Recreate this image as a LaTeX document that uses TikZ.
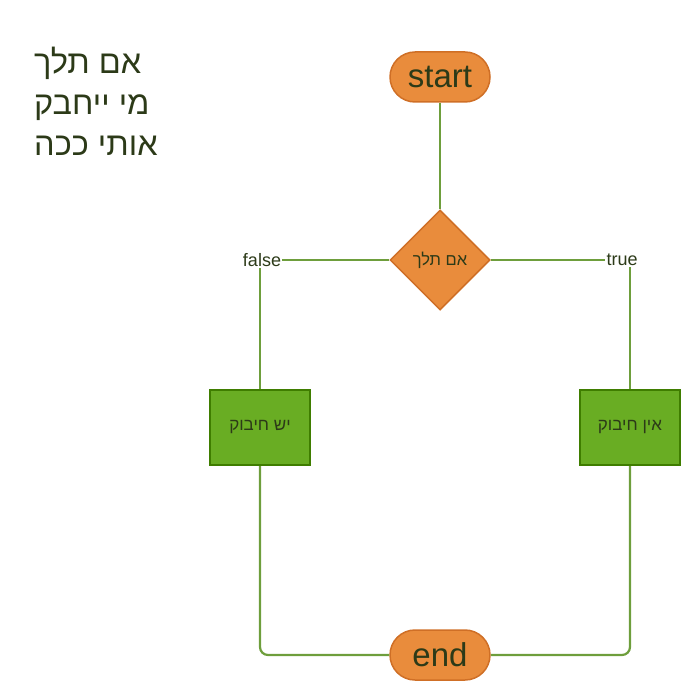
\documentclass[tikz,border=0pt]{standalone}
\usepackage{fontspec}
\setmainfont{Liberation Sans}
\newfontfamily\hebfont[Script=Hebrew]{Liberation Sans}
\TeXXeTstate=1
\usetikzlibrary{shapes.geometric}
\definecolor{ofill}{HTML}{E98C3C}
\definecolor{oline}{HTML}{CF6F26}
\definecolor{gfill}{HTML}{69AD23}
\definecolor{gline}{HTML}{3F7D00}
\definecolor{wire}{HTML}{6E9E3C}
\definecolor{ink}{HTML}{2C3A18}
\begin{document}
\begin{tikzpicture}[x=1pt,y=-1pt,
    terminal/.style={draw=oline,fill=ofill,line width=1.5pt,rounded corners=25pt,
      minimum width=100pt,minimum height=50pt,inner sep=0pt,text=ink,
      font=\fontsize{33}{38}\selectfont},
    choice/.style={draw=oline,fill=ofill,line width=1.5pt,diamond,aspect=1,
      minimum width=100pt,minimum height=100pt,inner sep=0pt,text=ink,
      font=\hebfont\fontsize{16.5}{19}\selectfont},
    action/.style={draw=gline,fill=gfill,line width=2pt,minimum width=100pt,
      minimum height=75pt,inner sep=0pt,text=ink,font=\hebfont\fontsize{17}{20}\selectfont},
    flag/.style={inner sep=1pt,text=ink,font=\fontsize{18}{21}\selectfont},
    wire/.style={draw=wire,line width=2.2pt,rounded corners=8pt}]
  \useasboundingbox(0,0)rectangle(700,700);
  \node[anchor=north west,align=left,inner sep=0pt,text=ink,
    font=\hebfont\fontsize{32.5}{41}\selectfont] (verse) at (34,47)
    {\beginR אם תלך\endR\\\beginR מי ייחבק\endR\\\beginR אותי ככה\endR};
  \node[terminal] (start) at (440,77) {start};
  \node[choice] (ask) at (440,260) {\beginR אם תלך\endR};
  \node[flag] (no) at (262,260) {false};
  \node[flag] (yes) at (622,260) {true};
  \node[action] (hug) at (260,427.5) {\beginR יש חיבוק\endR};
  \node[action] (nohug) at (630,427.5) {\beginR אין חיבוק\endR};
  \node[terminal] (end) at (440,655) {end};
  \draw[wire](start)--(ask);
  \draw[wire](ask.west)--(no.east) (no.south-|hug.north)--(hug.north);
  \draw[wire](ask.east)--(yes.west) (yes.south-|nohug.north)--(nohug.north);
  \draw[wire](hug.south)|-(end.west);
  \draw[wire](nohug.south)|-(end.east);
\end{tikzpicture}
\end{document}
